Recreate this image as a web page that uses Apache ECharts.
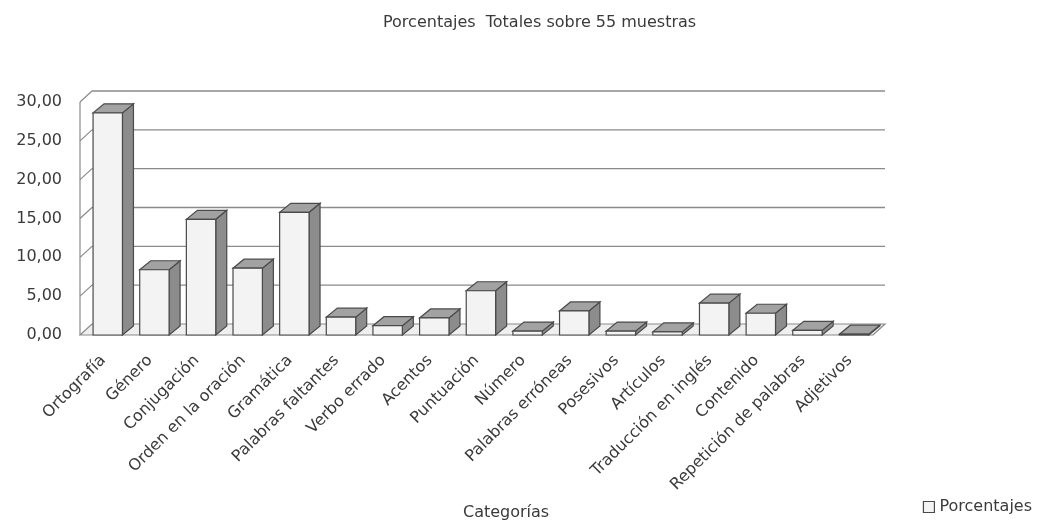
<!DOCTYPE html>
<html><head><meta charset="utf-8">
<script src="https://cdn.jsdelivr.net/npm/echarts@6/dist/echarts.min.js"></script>
<style>html,body{margin:0;padding:0;background:#fff}#c{width:1041px;height:524px}</style>
</head><body><div id="c"></div>
<script>
const categories = ['Ortografía','Género','Conjugación','Orden en la oración','Gramática','Palabras faltantes','Verbo errado','Acentos','Puntuación','Número','Palabras erróneas','Posesivos','Artículos','Traducción en inglés','Contenido','Repetición de palabras','Adjetivos'];
const values = [28.6, 8.4, 14.9, 8.6, 15.8, 2.3, 1.2, 2.2, 5.7, 0.5, 3.1, 0.5, 0.4, 4.1, 2.8, 0.6, 0.1];
const yMin = 0, yMax = 30, yStep = 5;
const seriesName = 'Porcentajes';
const titleText = 'Porcentajes  Totales sobre 55 muestras';
const xName = 'Categorías';

const FONT = "'DejaVu Sans', sans-serif";
const TXT = '#3a3a3a';
const WALL_DX = 12, WALL_DY = -11;

function renderWalls(params, api) {
  if (params.dataIndex !== 0) return null;
  const n = categories.length;
  const B = api.size([1, 0])[0];
  const xl = api.coord([0, 0])[0] - B / 2;
  const xr = api.coord([n - 1, 0])[0] + B / 2;
  const y0 = api.coord([0, yMin])[1];
  const yT = api.coord([0, yMax])[1];
  const kids = [];
  kids.push({type:'polygon', shape:{points:[[xl,y0],[xr,y0],[xr+WALL_DX,y0+WALL_DY],[xl+WALL_DX,y0+WALL_DY]]},
    style:{fill:'#efefef', stroke:'#8a8a8a', lineWidth:1.2}});
  kids.push({type:'line', shape:{x1:xl,y1:y0,x2:xl,y2:yT}, style:{stroke:'#8a8a8a', lineWidth:1.2}});
  for (let v = yMin + yStep; v <= yMax; v += yStep) {
    const y = api.coord([0, v])[1];
    kids.push({type:'line', shape:{x1:xl,y1:y,x2:xl+WALL_DX,y2:y+WALL_DY}, style:{stroke:'#8a8a8a', lineWidth:1.2}});
    kids.push({type:'line', shape:{x1:xl+WALL_DX,y1:y+WALL_DY,x2:xr+WALL_DX,y2:y+WALL_DY}, style:{stroke:'#8a8a8a', lineWidth:1.4}});
  }
  return {type:'group', children:kids};
}

function renderBar(params, api) {
  const i = api.value(0), v = api.value(1);
  const top = api.coord([i, v]);
  const base = api.coord([i, 0]);
  const B = api.size([1, 0])[0];
  const x0 = top[0] - 0.22 * B, x1 = top[0] + 0.41 * B;
  const dx = 11, dy = -9;
  const yt = top[1], yb = base[1];
  const stroke = '#4a4a4a';
  return {type:'group', children:[
    {type:'polygon', shape:{points:[[x1,yt],[x1+dx,yt+dy],[x1+dx,yb+dy],[x1,yb]]}, style:{fill:'#8c8c8c', stroke:stroke, lineWidth:1.2}},
    {type:'polygon', shape:{points:[[x0,yt],[x1,yt],[x1+dx,yt+dy],[x0+dx,yt+dy]]}, style:{fill:'#a2a2a2', stroke:stroke, lineWidth:1.2}},
    {type:'rect', shape:{x:x0, y:yt, width:x1-x0, height:Math.max(yb-yt,0.5)}, style:{fill:'#f3f3f3', stroke:stroke, lineWidth:1.2}}
  ]};
}

const chart = echarts.init(document.getElementById('c'), null, {renderer:'canvas'});
chart.setOption({
  backgroundColor:'#ffffff',
  animation:false,
  title:[
    {text:titleText, left:378, top:10, textStyle:{fontFamily:FONT, fontSize:16, fontWeight:'normal', color:TXT}},
    {text:xName, left:458, top:500, textStyle:{fontFamily:FONT, fontSize:16, fontWeight:'normal', color:TXT}}
  ],
  legend:{right:4, bottom:4, icon:'rect', itemWidth:11, itemHeight:11, itemGap:5,
    data:[{name:seriesName, itemStyle:{color:'#f3f3f3', borderColor:'#4a4a4a', borderWidth:1.2}}],
    textStyle:{fontFamily:FONT, fontSize:16, color:TXT}},
  grid:{left:80, right:168, top:102, bottom:189, containLabel:false},
  xAxis:{type:'category', data:categories, axisLine:{show:false}, axisTick:{show:false},
    axisLabel:{rotate:45, margin:23, interval:0, fontFamily:FONT, fontSize:16, color:TXT}},
  yAxis:{type:'value', min:yMin, max:yMax, interval:yStep, axisLine:{show:false}, axisTick:{show:false}, splitLine:{show:false},
    axisLabel:{margin:18, fontFamily:FONT, fontSize:16, color:TXT, formatter:v=>v.toFixed(2).replace('.', ',')}},
  series:[
    {type:'custom', name:'walls', renderItem:renderWalls, data:categories.map((c,i)=>[i,0]), encode:{x:0,y:1}, z:1, silent:true},
    {type:'custom', name:seriesName, renderItem:renderBar, data:categories.map((c,i)=>[i, values[i]]), encode:{x:0,y:1}, z:2,
      itemStyle:{color:'#f3f3f3', borderColor:'#4a4a4a'}}
  ]
});
</script></body></html>
